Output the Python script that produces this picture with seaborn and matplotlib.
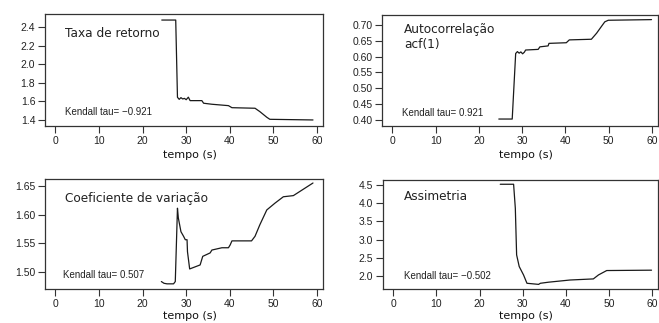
import matplotlib
matplotlib.use("Agg")
import matplotlib.pyplot as plt
import seaborn as sns
import pandas as pd

# dados (tempo em s)
t_taxa = [24.4, 27.6, 28.0, 28.4, 28.8, 29.2, 29.6, 30.0, 30.5, 30.9, 33.6, 34.0, 35.9, 39.7, 40.5, 45.8, 46.9, 48.5, 49.2, 59.1]
v_taxa = [2.475, 2.475, 1.644, 1.622, 1.640, 1.626, 1.632, 1.618, 1.645, 1.608, 1.608, 1.580, 1.569, 1.554, 1.532, 1.526, 1.490, 1.429, 1.407, 1.400]

t_acf = [24.6, 27.7, 28.5, 28.9, 29.3, 29.7, 30.1, 30.5, 30.8, 33.7, 34.1, 36.0, 36.2, 40.2, 40.9, 46.0, 47.2, 48.3, 49.1, 49.9, 59.9]
v_acf = [0.403, 0.403, 0.610, 0.616, 0.611, 0.615, 0.609, 0.614, 0.621, 0.623, 0.631, 0.634, 0.642, 0.644, 0.653, 0.655, 0.674, 0.695, 0.710, 0.715, 0.717]

t_cv = [24.3, 24.9, 25.6, 27.1, 27.5, 28.0, 28.2, 28.8, 29.4, 29.8, 30.2, 30.3, 30.8, 33.2, 33.8, 35.5, 35.9, 38.2, 39.7, 40.1, 40.5, 45.0, 45.8, 46.9, 48.5, 50.4, 52.3, 54.6, 59.1]
v_cv = [1.483, 1.480, 1.479, 1.479, 1.483, 1.611, 1.594, 1.570, 1.562, 1.556, 1.556, 1.535, 1.505, 1.512, 1.527, 1.533, 1.538, 1.542, 1.542, 1.547, 1.554, 1.554, 1.562, 1.582, 1.608, 1.620, 1.631, 1.633, 1.655]

t_ass = [24.8, 27.9, 28.3, 28.6, 29.2, 30.2, 31.0, 33.7, 34.1, 36.0, 41.0, 46.4, 47.6, 49.5, 59.9]
v_ass = [4.52, 4.52, 3.86, 2.58, 2.26, 2.03, 1.80, 1.77, 1.80, 1.83, 1.89, 1.92, 2.03, 2.15, 2.16]

titulos = ["Taxa de retorno", "Autocorrelação\nacf(1)", "Coeficiente de variação", "Assimetria"]
kendall = ["Kendall tau= \u22120.921", "Kendall tau= 0.921", "Kendall tau= 0.507", "Kendall tau= \u22120.502"]
yticks = [[1.4, 1.6, 1.8, 2.0, 2.2, 2.4],
          [0.40, 0.45, 0.50, 0.55, 0.60, 0.65, 0.70],
          [1.50, 1.55, 1.60, 1.65],
          [2.0, 2.5, 3.0, 3.5, 4.0, 4.5]]
ylims = [(1.335, 2.54), (0.381, 0.7316), (1.470, 1.662), (1.643, 4.637)]
yfmt = ["{:.1f}", "{:.2f}", "{:.2f}", "{:.1f}"]

sns.set_style("white")
plt.rcParams['font.family'] = ['DejaVu Sans']

W, H = 659, 323
fig = plt.figure(figsize=(W / 100, H / 100), dpi=100)

# caixas em pixels: (esq, dir, topo, base)
caixas = [(45, 323, 14, 126), (382, 658, 15, 126), (45, 323, 179, 289), (383, 658, 180, 289)]
pos_titulo = [(0.072, 0.83), (0.08, 0.80), (0.072, 0.825), (0.077, 0.847)]
pos_kendall = [(0.072, 0.125), (0.071, 0.114), (0.066, 0.127), (0.075, 0.12)]
pos_xlabel = [-0.215, -0.215, -0.2, -0.2]

series = [(t_taxa, v_taxa), (t_acf, v_acf), (t_cv, v_cv), (t_ass, v_ass)]

for i, ((t, v), (l, r, tp, b)) in enumerate(zip(series, caixas)):
    ax = fig.add_axes([l / W, (H - b) / H, (r - l) / W, (b - tp) / H])
    df = pd.DataFrame({'tempo': t, 'valor': v})
    sns.lineplot(data=df, x='tempo', y='valor', ax=ax, color='#1a1a1a',
                 linewidth=0.9, estimator=None, sort=False)
    ax.set_xlim(-2.4, 61.4)
    ax.set_ylim(*ylims[i])
    ax.set_xticks([0, 10, 20, 30, 40, 50, 60])
    ax.set_yticks(yticks[i])
    ax.set_yticklabels([yfmt[i].format(y) for y in yticks[i]])
    for s in ax.spines.values():
        s.set_visible(True)
        s.set_color('#333333')
        s.set_linewidth(0.9)
    ax.tick_params(axis='both', bottom=True, left=True, direction='out', width=0.8,
                   color='#333333', labelsize=7.5, labelcolor='#222222')
    ax.tick_params(axis='x', pad=2.5, length=5)
    ax.tick_params(axis='y', pad=2, length=5)
    for lab in ax.get_xticklabels() + ax.get_yticklabels():
        lab.set_family('Liberation Sans')
    ax.set_xlabel('tempo (s)', fontsize=8, color='#111111')
    ax.xaxis.set_label_coords(0.52, pos_xlabel[i])
    ax.set_ylabel('')
    ax.text(pos_titulo[i][0], pos_titulo[i][1], titulos[i], transform=ax.transAxes,
            fontsize=8.7, va='center', ha='left', color='#222222', linespacing=1.25)
    ax.text(pos_kendall[i][0], pos_kendall[i][1], kendall[i], transform=ax.transAxes,
            fontsize=7, va='center', ha='left', color='#222222', family='Liberation Sans')

fig.savefig('out.png', dpi=100)
